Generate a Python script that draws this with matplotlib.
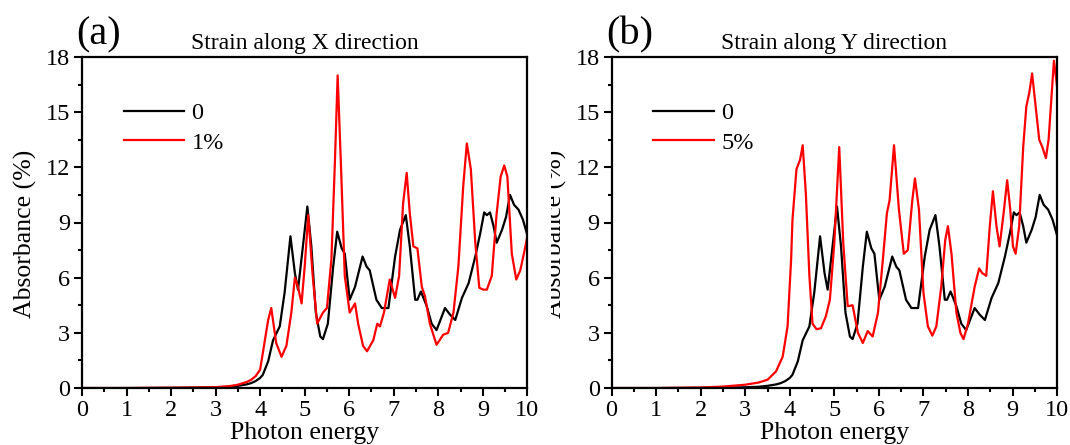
import matplotlib
matplotlib.use('Agg')
import matplotlib.pyplot as plt
from matplotlib.ticker import MultipleLocator
from matplotlib.transforms import Bbox, TransformedBbox

plt.rcParams['font.family'] = ['Liberation Serif', 'DejaVu Serif']

# unstrained spectrum (same in both panels)
e_0 = [0, 1, 2, 2.5, 3, 3.3, 3.5, 3.7, 3.8, 3.9, 4.0, 4.06, 4.18, 4.29, 4.44, 4.55,
       4.68, 4.78, 4.85, 4.96, 5.06, 5.15, 5.25, 5.35, 5.41, 5.52, 5.64, 5.73, 5.83,
       5.9, 6.01, 6.13, 6.3, 6.39, 6.46, 6.61, 6.73, 6.88, 7.03, 7.14, 7.27, 7.36,
       7.48, 7.53, 7.61, 7.74, 7.85, 7.96, 8.15, 8.26, 8.38, 8.53, 8.68, 8.83, 8.94,
       9.03, 9.09, 9.16, 9.24, 9.31, 9.43, 9.52, 9.61, 9.7, 9.8, 9.9, 10.0]
a_0 = [0, 0, 0.01, 0.02, 0.04, 0.07, 0.12, 0.2, 0.27, 0.38, 0.55, 0.72, 1.45, 2.6, 3.35,
       5.2, 8.25, 6.25, 5.35, 7.7, 9.87, 7.7, 4.1, 2.8, 2.66, 3.5, 6.6, 8.5, 7.6, 7.3,
       4.8, 5.5, 7.15, 6.6, 6.4, 4.8, 4.35, 4.35, 7.15, 8.6, 9.4, 7.7, 4.8, 4.8, 5.25,
       4.45, 3.5, 3.15, 4.35, 4.0, 3.7, 4.9, 5.7, 7.15, 8.4, 9.55, 9.4, 9.55, 8.8, 7.9,
       8.6, 9.3, 10.5, 9.96, 9.7, 9.15, 8.3]

# 1% strain along X
e_x = [0, 1, 2, 2.5, 3, 3.3, 3.5, 3.7, 3.8, 3.9, 4.0, 4.06, 4.18, 4.25, 4.36, 4.48,
       4.59, 4.7, 4.78, 4.85, 4.93, 5.0, 5.08, 5.18, 5.28, 5.41, 5.5, 5.6, 5.68, 5.74,
       5.81, 5.9, 6.01, 6.13, 6.2, 6.31, 6.4, 6.54, 6.63, 6.69, 6.78, 6.91, 7.03, 7.12,
       7.21, 7.29, 7.36, 7.44, 7.53, 7.63, 7.7, 7.81, 7.96, 8.11, 8.22, 8.34, 8.45, 8.56,
       8.64, 8.73, 8.83, 8.92, 9.01, 9.09, 9.2, 9.31, 9.4, 9.48, 9.55, 9.65, 9.75, 9.84,
       9.92, 10.0]
a_x = [0, 0, 0.02, 0.03, 0.05, 0.1, 0.18, 0.33, 0.45, 0.65, 1.0, 1.9, 3.7, 4.35, 2.45,
       1.7, 2.3, 4.1, 6.0, 5.5, 4.6, 6.6, 9.4, 6.1, 3.5, 4.1, 4.35, 7.0, 12.4, 17.0, 12.4,
       6.1, 4.1, 4.6, 3.5, 2.3, 2.0, 2.6, 3.5, 3.35, 4.1, 5.9, 4.9, 6.1, 10.05, 11.7, 9.5,
       7.7, 7.6, 5.5, 5.0, 3.5, 2.35, 2.9, 3.0, 4.1, 6.6, 11.0, 13.3, 11.9, 7.9, 5.45,
       5.35, 5.35, 6.1, 9.5, 11.5, 12.1, 11.5, 7.3, 5.9, 6.4, 7.3, 8.25]

# 5% strain along Y
e_y = [0, 1, 2, 2.5, 3, 3.3, 3.5, 3.69, 3.84, 3.95, 4.03, 4.06, 4.15, 4.23, 4.29, 4.36,
       4.44, 4.51, 4.6, 4.7, 4.81, 4.9, 5.0, 5.11, 5.2, 5.3, 5.41, 5.53, 5.64, 5.75,
       5.86, 5.98, 6.09, 6.18, 6.24, 6.34, 6.45, 6.56, 6.65, 6.75, 6.81, 6.9, 7.0, 7.1,
       7.2, 7.29, 7.4, 7.49, 7.55, 7.63, 7.74, 7.83, 7.9, 8.0, 8.15, 8.25, 8.32, 8.41,
       8.49, 8.56, 8.64, 8.71, 8.8, 8.88, 8.95, 9.01, 9.07, 9.15, 9.24, 9.31, 9.38, 9.44,
       9.52, 9.6, 9.67, 9.75, 9.81, 9.88, 9.93, 10.0]
a_y = [0, 0, 0.03, 0.08, 0.18, 0.3, 0.45, 0.9, 1.7, 3.35, 7.0, 9.15, 11.9, 12.4, 13.2,
       10.6, 6.1, 3.5, 3.2, 3.25, 3.9, 4.8, 7.9, 13.1, 7.9, 4.45, 4.5, 3.0, 2.45, 3.1,
       2.8, 4.1, 7.0, 9.5, 10.2, 13.2, 9.7, 7.3, 7.5, 10.2, 11.4, 9.7, 5.2, 3.35, 2.85,
       3.35, 5.5, 8.05, 8.8, 7.3, 4.1, 3.0, 2.66, 3.5, 5.5, 6.5, 6.25, 6.1, 8.8, 10.7,
       8.8, 7.7, 9.5, 11.3, 9.7, 7.7, 7.3, 8.8, 13.1, 15.3, 16.1, 17.1, 15.3, 13.5, 13.1,
       12.5, 13.5, 16.0, 17.8, 16.4]

panels = [('(a)', 'Strain along X direction', e_x, a_x, '1%'),
          ('(b)', 'Strain along Y direction', e_y, a_y, '5%')]
lefts = [0.0766, 0.5716]

fig = plt.figure(figsize=(10.7, 4.45), dpi=100)

for (tag, title, e_s, a_s, lab), left in zip(panels, lefts):
    ax = fig.add_axes([left, 0.128, 0.4163, 0.744])
    ax.plot(e_0, a_0, color='black', lw=1.6, label='0')
    ax.plot(e_s, a_s, color='#ff0000', lw=1.6, label=lab)
    ax.set_xlim(0, 10)
    ax.set_ylim(0, 18)
    ax.xaxis.set_major_locator(MultipleLocator(1))
    ax.xaxis.set_minor_locator(MultipleLocator(0.5))
    ax.yaxis.set_major_locator(MultipleLocator(3))
    ax.yaxis.set_minor_locator(MultipleLocator(1.5))
    ax.tick_params(which='both', direction='out', labelsize=17.5, width=1.5)
    ax.tick_params(which='major', length=5.5, pad=3)
    ax.tick_params(which='minor', length=3)
    for sp in ax.spines.values():
        sp.set_linewidth(1.6)
    ax.set_xlabel('Photon energy', fontsize=18.5, labelpad=1)
    ax.set_title(title, fontsize=17, pad=6)
    ax.text(-0.012, 1.01, tag, transform=ax.transAxes, fontsize=29, va='bottom', ha='left')
    ax.legend(loc='upper left', bbox_to_anchor=(0.066, 0.9), frameon=False, fontsize=17.5,
              handlelength=2.5, handletextpad=0.3, labelspacing=0.3, borderpad=0)

# y labels: panel (b)'s is partly hidden behind the left panel
fig.text(0.0234, 0.475, 'Absorbance (%)', rotation=90, fontsize=18.5, ha='center', va='center')
lb = fig.text(0.5187, 0.475, 'Absorbance (%)', rotation=90, fontsize=18.5, ha='center', va='center')
lb.set_clip_box(TransformedBbox(Bbox([[0.515, 0], [0.56, 1]]), fig.transFigure))
lb.set_clip_on(True)

fig.savefig('out.png', dpi=100)
